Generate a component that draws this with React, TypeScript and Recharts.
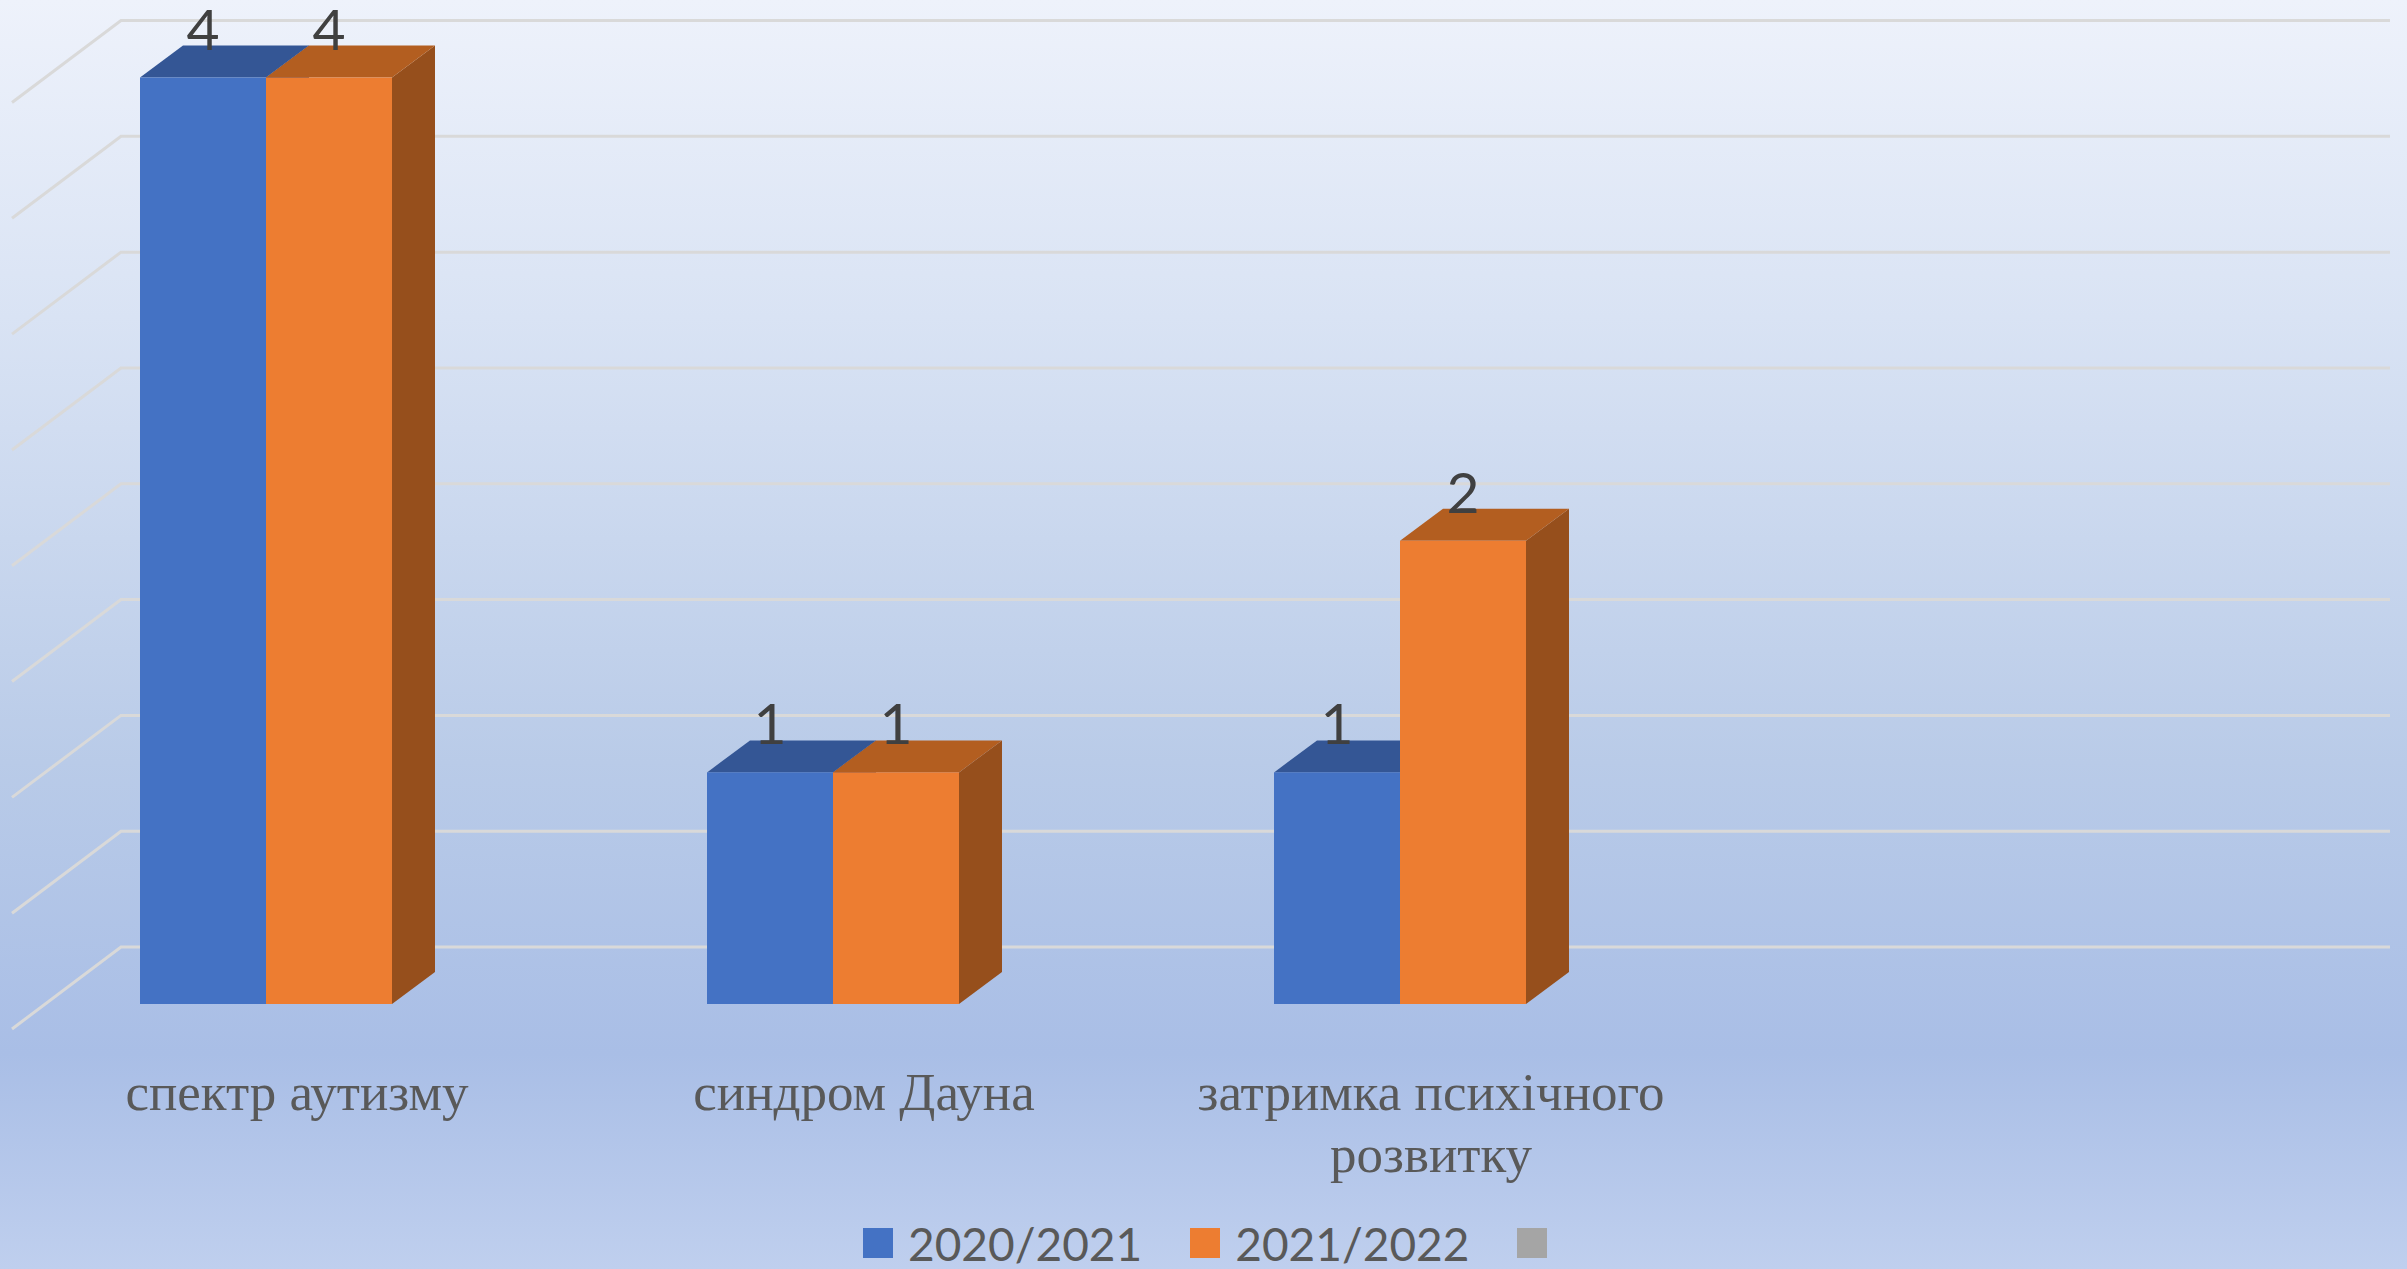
import { BarChart, Bar, XAxis, YAxis, CartesianGrid, LabelList, Legend } from "recharts";

const categories = ["спектр аутизму", "синдром Дауна", "затримка психічного розвитку", ""];
const series2021 = [4, 1, 1, null];
const series2022 = [4, 1, 2, null];
const seriesEmpty = [null, null, null, null];
const yTicks = [0, 0.5, 1, 1.5, 2, 2.5, 3, 3.5, 4];

const data = categories.map((name, i) => ({
  name,
  a: series2021[i],
  b: series2022[i],
  c: seriesEmpty[i],
}));

const DEPTH_X = 43;
const DEPTH_Y = 32;

const BLUE = { front: "#4472C4", top: "#345695", side: "#2F4F88" };
const ORANGE = { front: "#ED7D31", top: "#B35E20", side: "#964F1C" };

// fake 3d column: front face plus top and side faces
function Column3D(props: any, c: { front: string; top: string; side: string }) {
  const { x, y, width, height } = props;
  if (!height) return <g />;
  const r = x + width;
  const b = y + height;
  return (
    <g>
      <polygon
        points={`${r},${y} ${r + DEPTH_X},${y - DEPTH_Y} ${r + DEPTH_X},${b - DEPTH_Y} ${r},${b}`}
        fill={c.side}
      />
      <polygon
        points={`${x},${y} ${x + DEPTH_X},${y - DEPTH_Y} ${r + DEPTH_X},${y - DEPTH_Y} ${r},${y}`}
        fill={c.top}
      />
      <rect x={x} y={y} width={width} height={height} fill={c.front} />
    </g>
  );
}

function GridLine(props: any) {
  const y = props.y1;
  return (
    <g key={props.key ?? y}>
      <polyline
        points={`12,${y + 25} 121,${y - 57} 2390,${y - 57}`}
        fill="none"
        stroke="#D9D9D9"
        strokeWidth={3}
      />
    </g>
  );
}

function wrapLabel(s: string) {
  if (s.length <= 20) return [s];
  const i = s.lastIndexOf(" ");
  return [s.slice(0, i), s.slice(i + 1)];
}

function CategoryTick(props: any) {
  const { x, y, payload } = props;
  return (
    <text
      x={x - 32}
      y={y}
      textAnchor="middle"
      fontFamily="'Liberation Serif'"
      fontSize={53}
      fill="#595959"
    >
      {wrapLabel(payload.value).map((line, i) => (
        <tspan key={i} x={x - 32} y={y + 106 + i * 62}>
          {line}
        </tspan>
      ))}
    </text>
  );
}

function ValueLabel(props: any) {
  const { x, y, width, value } = props;
  if (value == null) return null;
  return (
    <text
      x={x + width / 2}
      y={y - 28}
      textAnchor="middle"
      fontFamily="Lato"
      fontSize={57}
      fill="#404040"
    >
      {value}
    </text>
  );
}

function LegendRow(props: any) {
  return (
    <div style={{ display: "flex", alignItems: "center", height: 60 }}>
      {props.payload.map((entry: any, i: number) => (
        <div key={i} style={{ display: "flex", alignItems: "center", marginRight: 48 }}>
          <span style={{ width: 30, height: 30, background: entry.color, marginRight: 15 }} />
          <span style={{ fontFamily: "Lato", fontSize: 46, color: "#595959" }}>{entry.value}</span>
        </div>
      ))}
    </div>
  );
}

export default function App() {
  return (
    <div
      style={{
        position: "absolute",
        left: 0,
        top: 0,
        width: 2407,
        height: 1269,
        overflow: "hidden",
        background: "linear-gradient(180deg, #EEF2FB 0%, #D9E3F4 25%, #B9CBE8 60%, #A9BEE6 83%, #BFCFEE 100%)",
      }}
    >
      <BarChart
        width={2407}
        height={1269}
        data={data}
        barCategoryGap="16.667%"
        barGap={0}
        margin={{ top: 77.5, right: 93.5, bottom: 165, left: 45.5 }}
      >
        <CartesianGrid vertical={false} horizontal={GridLine} />
        <XAxis
          dataKey="name"
          height={100}
          axisLine={false}
          tickLine={false}
          tickSize={0}
          tickMargin={0}
          interval={0}
          tick={CategoryTick}
        />
        <YAxis hide domain={[0, 4]} ticks={yTicks} />
        <Legend
          verticalAlign="middle"
          layout="horizontal"
          content={LegendRow}
          itemSorter="dataKey"
          wrapperStyle={{ position: "absolute", left: 863, top: 1213, width: "auto" }}
        />
        <Bar
          dataKey="a"
          name="2020/2021"
          fill={BLUE.front}
          isAnimationActive={false}
          shape={(p: any) => Column3D(p, BLUE)}
        >
          <LabelList dataKey="a" content={ValueLabel} />
        </Bar>
        <Bar
          dataKey="b"
          name="2021/2022"
          fill={ORANGE.front}
          isAnimationActive={false}
          shape={(p: any) => Column3D(p, ORANGE)}
        >
          <LabelList dataKey="b" content={ValueLabel} />
        </Bar>
        <Bar dataKey="c" name=" " fill="#A5A5A5" isAnimationActive={false} />
      </BarChart>
    </div>
  );
}
